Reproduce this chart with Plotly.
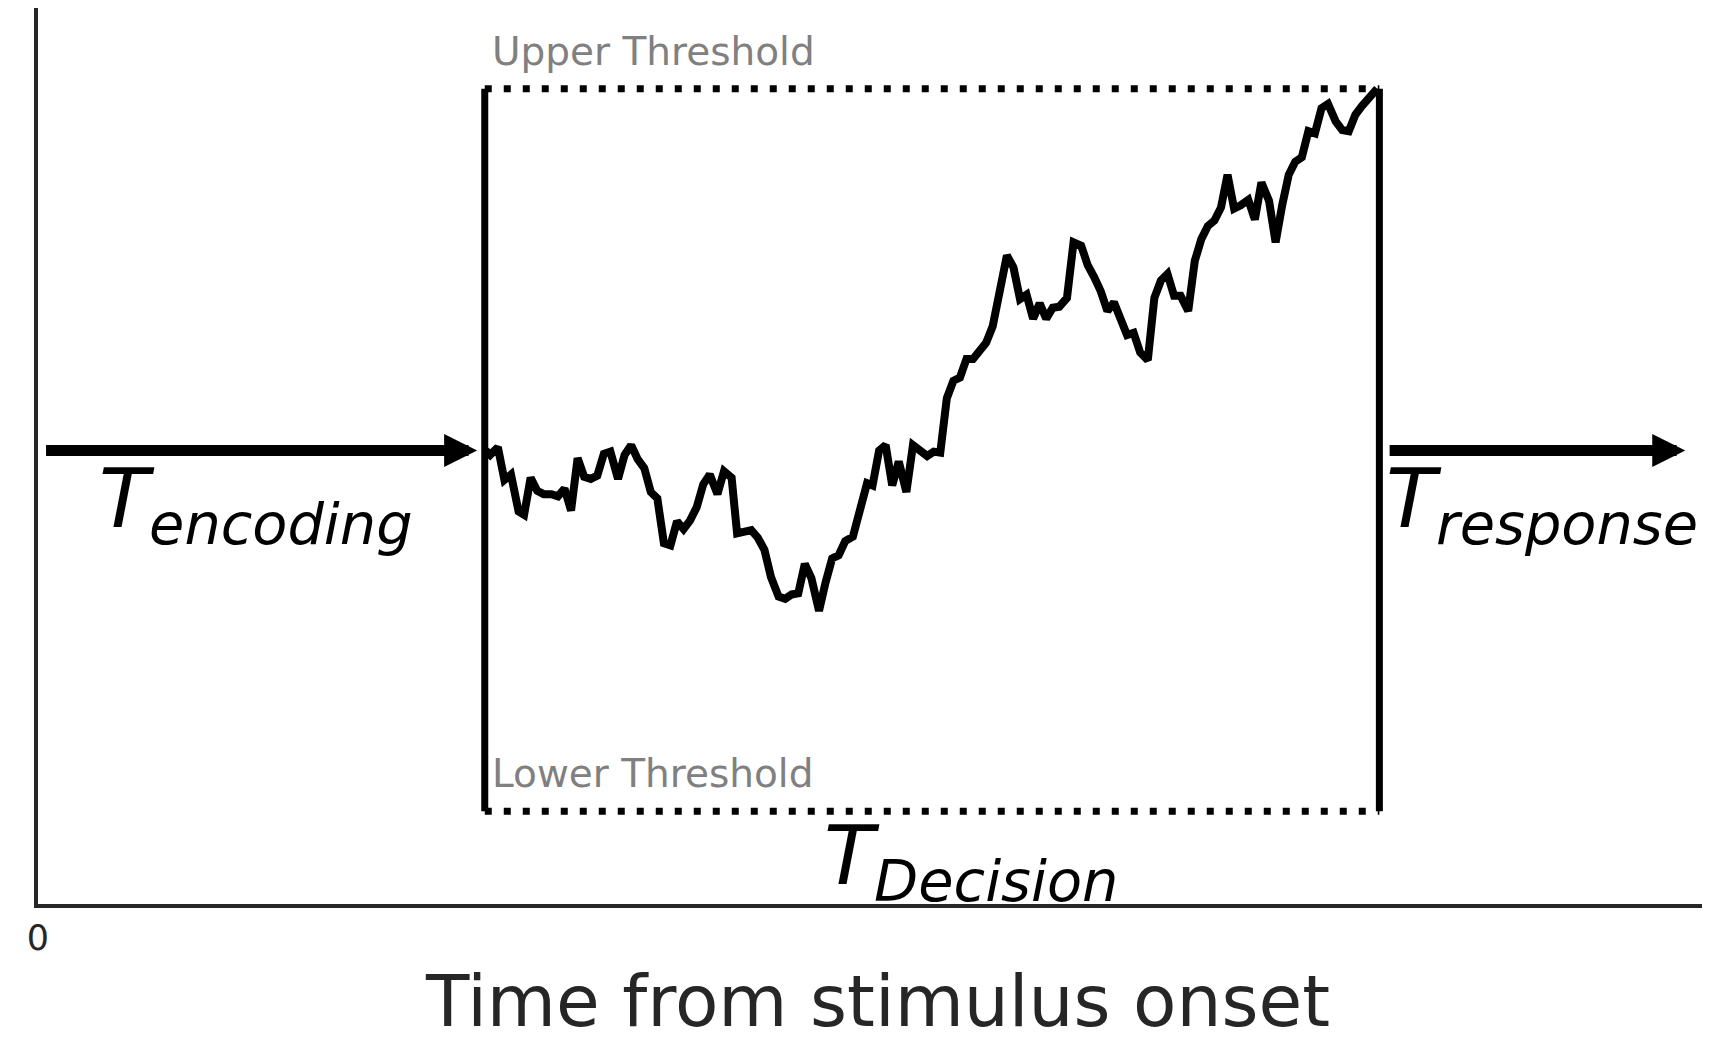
import plotly.graph_objects as go

# random walk (x = time units, y = evidence units, both in image-like scale)
walk_x = [440, 444, 451, 457, 463, 470, 475, 481, 487, 493, 500, 506, 512, 518, 524, 530, 536, 542, 548, 554,
          561, 567, 573, 579, 585, 591, 597, 603, 609, 615, 621, 627, 633, 639, 645, 652, 658, 665, 670, 676,
          683, 689, 695, 701, 708, 714, 720, 726, 732, 738, 745, 751, 757, 763, 769, 776, 782, 789, 794, 800,
          806, 812, 818, 825, 831, 837, 844, 850, 856, 862, 868, 874, 880, 886, 892, 898, 904, 910, 917, 923,
          929, 935, 941, 947, 953, 959, 965, 972, 978, 985, 991, 997, 1003, 1009, 1015, 1021, 1027, 1033, 1039, 1046,
          1052, 1058, 1064, 1070, 1076, 1083, 1089, 1095, 1101, 1107, 1113, 1119, 1125, 1131, 1138, 1144, 1150, 1157, 1163, 1169,
          1175, 1181, 1187, 1193, 1199, 1205, 1211, 1218, 1224, 1230, 1236, 1242, 1248, 1256]
walk_y = [406, 410, 403, 433, 428, 462, 465, 431, 443, 446, 446, 448, 441, 461, 413, 430, 432, 429, 409, 407,
          432, 410, 401, 414, 422, 444, 450, 491, 493, 471, 478, 470, 458, 437, 428, 446, 425, 431, 482, 480,
          479, 486, 497, 522, 540, 542, 538, 537, 510, 523, 553, 527, 505, 502, 489, 485, 460, 436, 438, 406,
          401, 438, 416, 444, 401, 406, 411, 407, 408, 358, 342, 339, 322, 322, 313, 307, 292, 263, 227, 238,
          267, 263, 285, 271, 285, 275, 274, 266, 215, 218, 236, 247, 260, 278, 270, 285, 300, 298, 316, 323,
          266, 250, 244, 264, 264, 278, 232, 212, 200, 195, 183, 153, 184, 181, 176, 194, 160, 177, 215, 181,
          153, 141, 137, 113, 115, 92, 88, 104, 112, 113, 98, 90, 82, 74]

t_start, t_end = 439, 1258
upper, lower = 74, 737
baseline = 406

fig = go.Figure()
# decision box: solid sides, dotted thresholds
for xs in (t_start, t_end):
    fig.add_trace(go.Scatter(x=[xs, xs], y=[upper, lower], mode='lines',
                             line=dict(color='black', width=7), hoverinfo='skip'))
for ys in (upper, lower):
    fig.add_trace(go.Scatter(x=[t_start, t_end], y=[ys, ys], mode='lines',
                             line=dict(color='black', width=7, dash='7px,12px'), hoverinfo='skip'))
fig.add_trace(go.Scatter(x=walk_x, y=walk_y, mode='lines',
                         line=dict(color='black', width=8), hoverinfo='skip'))

# arrows
for x0, x1 in ((36, 432), (1266, 1538)):
    fig.add_annotation(x=x1, y=baseline, ax=x0, ay=baseline, xref='x', yref='y', axref='x', ayref='y',
                       showarrow=True, arrowhead=2, arrowsize=0.6, arrowwidth=11, arrowcolor='black', text='')

big = dict(family='DejaVu Sans', size=82, color='black')
fig.add_annotation(x=84, y=405, text='<i>T<sub>encoding</sub></i>', showarrow=False,
                   xanchor='left', yanchor='top', font=big)
fig.add_annotation(x=1262, y=405, text='<i>T<sub>response</sub></i>', showarrow=False,
                   xanchor='left', yanchor='top', font=big)
fig.add_annotation(x=748, y=732, text='<i>T<sub>Decision</sub></i>', showarrow=False,
                   xanchor='left', yanchor='top', font=big)
grey = dict(family='DejaVu Sans', size=39, color='#808080')
fig.add_annotation(x=444, y=62, text='Upper Threshold', showarrow=False, xanchor='left', yanchor='bottom', font=grey)
fig.add_annotation(x=444, y=725, text='Lower Threshold', showarrow=False, xanchor='left', yanchor='bottom', font=grey)

fig.update_layout(
    width=1710, height=1044, showlegend=False,
    plot_bgcolor='white', paper_bgcolor='white',
    margin=dict(l=30, r=0, t=0, b=148),
    font=dict(family='DejaVu Sans', color='#262626'),
    xaxis=dict(range=[30, 1568], showgrid=False, zeroline=False, showline=True, linecolor='#262626',
               linewidth=4, tickmode='array', tickvals=[30], ticktext=['0'], ticks='',
               tickfont=dict(size=35, color='#262626'),
               title=dict(text='Time from stimulus onset', font=dict(size=71, color='#262626'), standoff=20)),
    yaxis=dict(range=[822, 0], showgrid=False, zeroline=False, showline=True, linecolor='#262626',
               linewidth=4, showticklabels=False, ticks=''),
)

fig.write_html("out.html")
